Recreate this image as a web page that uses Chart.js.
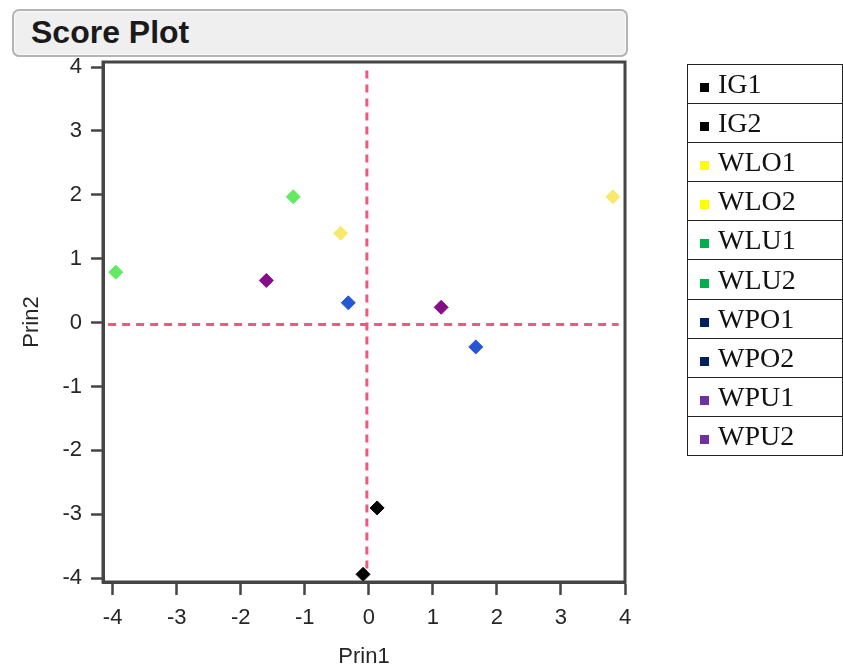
<!DOCTYPE html>
<html>
<head>
<meta charset="utf-8">
<script src="https://cdn.jsdelivr.net/npm/chart.js@4.4.1/dist/chart.umd.min.js"></script>
<style>
  html, body { margin: 0; padding: 0; background: #ffffff; }
  body { width: 843px; height: 671px; position: relative; overflow: hidden; }
  #titleBox {
    position: absolute; left: 12px; top: 9px; width: 612px; height: 44px;
    background: #efefef; border: 2px solid #b4b4b4; border-radius: 7px;
    box-shadow: inset 0 0 0 1px #fafafa;
  }
  #titleBox span {
    position: absolute; left: 17px; top: 3px;
    font: bold 32px "Liberation Sans", Arial, sans-serif; color: #1a1a1a;
  }
  #chart { position: absolute; left: 0; top: 0; }
  #legend {
    position: absolute; left: 687px; top: 64px; width: 156px;
    border-collapse: collapse;
  }
  #legend td {
    border: 1.5px solid #222; height: 38.1px; padding: 0 0 0 12px;
    font: 28px "Liberation Serif", "Times New Roman", serif; color: #111;
    white-space: nowrap;
  }
  #legend .sw {
    display: inline-block; width: 9px; height: 9px; margin-right: 9px;
    vertical-align: 1px;
  }
</style>
</head>
<body>
<div id="titleBox"><span>Score Plot</span></div>
<canvas id="chart" width="843" height="671"></canvas>
<table id="legend"></table>
<script>
// Principal component scores for each sample
const labels = ['IG1', 'IG2', 'WLO1', 'WLO2', 'WLU1', 'WLU2', 'WPO1', 'WPO2', 'WPU1', 'WPU2'];
const prin1 = [0.13, -0.09, -0.44, 3.81, -1.18, -3.95, -0.32, 1.67, -1.60, 1.13];
const prin2 = [-2.90, -3.94, 1.40, 1.97, 1.97, 0.79, 0.31, -0.38, 0.66, 0.24];
const markerColors = ['#000000', '#000000', '#f6e96b', '#f6e96b', '#63ea63', '#63ea63',
                      '#2456d6', '#2456d6', '#860c8a', '#860c8a'];
const swatchColors = ['#000000', '#000000', '#ffff00', '#ffff00', '#00b050', '#00b050',
                      '#002060', '#002060', '#7030a0', '#7030a0'];
const tickValues = [-4, -3, -2, -1, 0, 1, 2, 3, 4];

// Mean reference lines and their drawn extents
const meanPrin1 = -0.03;
const meanPrin2 = -0.03;
const hLineSpan = [-4.07, 3.9];
const vLineSpan = [-3.85, 4.0];

// Legend table
const legend = document.getElementById('legend');
labels.forEach((name, i) => {
  const tr = document.createElement('tr');
  const td = document.createElement('td');
  const sw = document.createElement('span');
  sw.className = 'sw';
  sw.style.background = swatchColors[i];
  td.appendChild(sw);
  td.appendChild(document.createTextNode(name));
  tr.appendChild(td);
  legend.appendChild(tr);
});

const pointSets = labels.map((name, i) => ({
  label: name,
  data: [{ x: prin1[i], y: prin2[i] }],
  backgroundColor: markerColors[i],
  borderColor: markerColors[i],
  borderWidth: 1,
  pointStyle: 'rectRot',
  pointRadius: 7,
  order: 0
}));

const refStyle = {
  type: 'line', borderColor: '#f2587e', borderWidth: 3, borderDash: [8, 6],
  pointRadius: 0, fill: false, order: 10
};

const frame = {
  id: 'frame',
  afterDraw(chart) {
    const { ctx, chartArea: a } = chart;
    ctx.save();
    ctx.strokeStyle = '#454545';
    ctx.lineWidth = 3;
    ctx.strokeRect(a.left, a.top, a.right - a.left, a.bottom - a.top);
    ctx.restore();
  }
};

const tickFont = { family: '"Liberation Sans", Arial, sans-serif', size: 22 };

new Chart(document.getElementById('chart'), {
  type: 'scatter',
  data: {
    datasets: [
      ...pointSets,
      Object.assign({ label: 'meanH', data: hLineSpan.map(x => ({ x, y: meanPrin2 })) }, refStyle),
      Object.assign({ label: 'meanV', data: vLineSpan.map(y => ({ x: meanPrin1, y })) }, refStyle)
    ]
  },
  options: {
    responsive: false,
    animation: false,
    layout: { padding: { left: 0, top: 62, right: 218, bottom: 0 } },
    plugins: { legend: { display: false }, tooltip: { enabled: false } },
    scales: {
      x: {
        type: 'linear', min: -4.15, max: 4.0,
        afterFit(s) { s.height = 89; },
        afterBuildTicks(s) { s.ticks = tickValues.map(v => ({ value: v })); },
        grid: { drawOnChartArea: false, drawTicks: true, tickLength: 13, tickWidth: 2.5, tickColor: '#454545', color: '#454545' },
        border: { display: true, color: '#454545', width: 3 },
        ticks: { font: tickFont, color: '#262626', padding: 10, includeBounds: false, maxRotation: 0 },
        title: { display: true, text: 'Prin1', font: tickFont, color: '#262626', padding: { top: 0, bottom: 1 } }
      },
      y: {
        type: 'linear', min: -4.06, max: 4.08,
        afterFit(s) { s.width = 103; },
        afterBuildTicks(s) { s.ticks = tickValues.map(v => ({ value: v })); },
        grid: { drawOnChartArea: false, drawTicks: true, tickLength: 12, tickWidth: 2.5, tickColor: '#454545', color: '#454545' },
        border: { display: true, color: '#454545', width: 3 },
        ticks: { font: tickFont, color: '#262626', padding: 9, includeBounds: false },
        title: { display: true, text: 'Prin2', font: tickFont, color: '#262626', padding: { top: 19, bottom: 0 } }
      }
    }
  },
  plugins: [frame]
});
</script>
</body>
</html>
